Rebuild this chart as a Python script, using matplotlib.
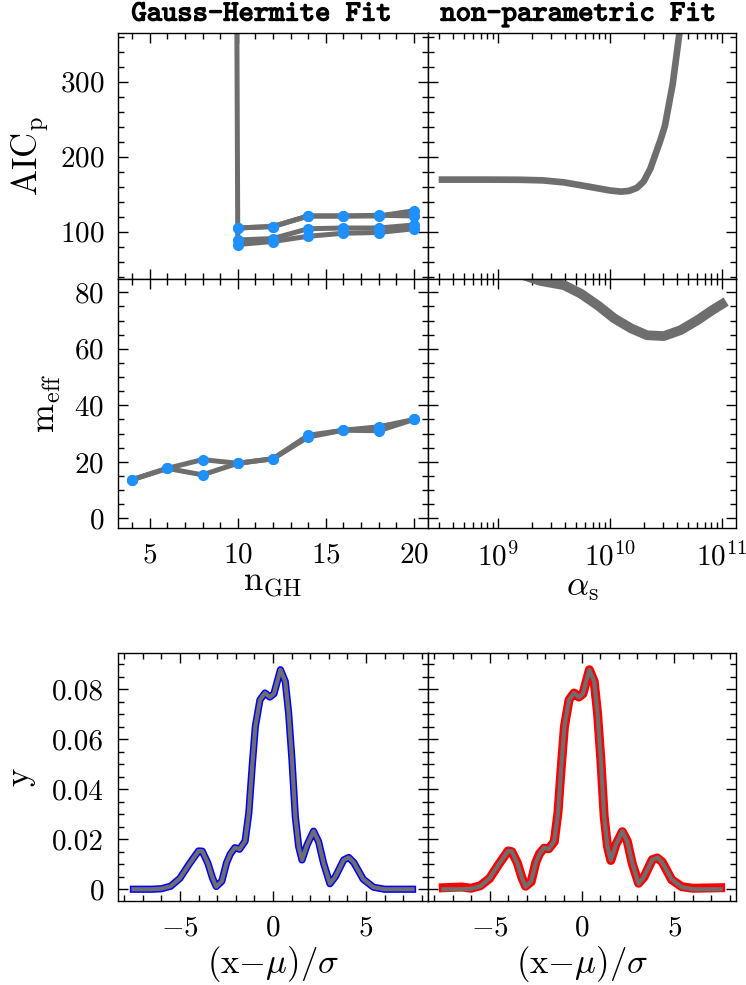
import numpy as np
import matplotlib
matplotlib.use("Agg")
import matplotlib.pyplot as plt
import matplotlib.patheffects as pe
from matplotlib.ticker import MultipleLocator, LogLocator, NullFormatter

plt.rcParams['font.family'] = 'serif'
plt.rcParams['font.serif'] = ['cmr10']
plt.rcParams['mathtext.fontset'] = 'cm'
plt.rcParams['axes.formatter.use_mathtext'] = True
plt.rcParams['axes.linewidth'] = 1.0

# --- Gauss-Hermite fits: AIC and effective number of parameters vs n_GH
n_gh = [4, 6, 8, 10, 12, 14, 16, 18, 20]
nan = np.nan
aic_gh_1 = [nan, nan, 11000, 89, 91, 104, 105, 105, 109]
aic_gh_2 = [nan, nan, nan, 105, 107, 121, 121, 121, 128]
aic_gh_3 = [nan, nan, nan, 105, 107, 121, 121, 122, 121]
aic_gh_4 = [nan, nan, nan, 83, 87, 94, 98, 99, 104]
meff_gh_1 = [13.7, 17.7, 20.8, 19.5, 21.1, 29.4, 31.2, 32.4, 35.0]
meff_gh_2 = [13.7, 17.7, 15.4, 19.5, 21.1, 28.8, 31.2, 31.0, 35.0]

# --- non-parametric fit vs smoothing parameter alpha_s (log10)
log_alpha_aic = [8.5, 8.9, 9.2, 9.4, 9.59, 9.83, 10.0, 10.1, 10.17, 10.24, 10.3, 10.36,
                 10.45, 10.49, 10.56, 10.62, 10.68]
aic_np = [169.5, 169.5, 169.3, 168.5, 165.8, 159.6, 155, 153.5, 154.5, 158.5, 167, 184,
          222, 241, 297, 365, 440]
log_alpha_meff = [8.5, 9.0, 9.38, 9.59, 9.74, 9.89, 10.04, 10.19, 10.33, 10.48,
                  10.63, 10.78, 10.91, 11.0]
meff_np = [95, 89, 84.0, 82.5, 79.5, 75.4, 70.7, 67.2, 64.8, 64.5,
           66.6, 70.1, 73.6, 75.8]

# --- recovered line-of-sight profiles
prof_x = [-7.5, -6.5, -6.0, -5.5, -5.0, -4.5, -4.0, -3.8, -3.5, -3.25, -3.05, -2.75,
          -2.5, -2.3, -2.05, -1.8, -1.5, -1.3, -1.12, -0.95, -0.7, -0.43, -0.17, 0.05,
          0.4, 0.66, 0.84, 1.02, 1.2, 1.38, 1.56, 1.83, 2.18, 2.45, 2.72, 3.06,
          3.35, 3.8, 4.07, 4.34, 4.85, 5.4, 6.0, 7.5]
prof_true = [0.0, 0.0, 0.0002, 0.0012, 0.0044, 0.0100, 0.0153, 0.0152, 0.0104, 0.0045,
             0.0010, 0.0032, 0.0105, 0.0140, 0.0166, 0.0160, 0.0192, 0.0304, 0.049, 0.065,
             0.0757, 0.0784, 0.0768, 0.0781, 0.0877, 0.0830, 0.0704, 0.0517, 0.029, 0.017,
             0.0117, 0.0177, 0.0232, 0.019, 0.0104, 0.0022, 0.0050, 0.0117, 0.0127, 0.0107,
             0.0040, 0.0008, 0.0, 0.0]
prof_gh = [0.0, 0.0, 0.0002, 0.0012, 0.0044, 0.0101, 0.0153, 0.0152, 0.0104, 0.0045,
           0.0011, 0.0032, 0.0105, 0.0140, 0.0166, 0.0160, 0.0192, 0.0304, 0.049, 0.065,
           0.0757, 0.0784, 0.0768, 0.0781, 0.0877, 0.0830, 0.0704, 0.0517, 0.029, 0.017,
           0.0117, 0.0177, 0.0232, 0.019, 0.0104, 0.0022, 0.0050, 0.0117, 0.0127, 0.0107,
           0.0040, 0.0008, 0.0, 0.0]
prof_np = [0.0006, 0.0009, 0.0004, 0.0014, 0.0043, 0.0100, 0.0153, 0.0150, 0.0106, 0.0046,
           0.0012, 0.0030, 0.0107, 0.0142, 0.0164, 0.0162, 0.0190, 0.0306, 0.049, 0.065,
           0.0757, 0.0784, 0.0768, 0.0781, 0.0877, 0.0830, 0.0704, 0.0517, 0.029, 0.017,
           0.0115, 0.0178, 0.0230, 0.0192, 0.0102, 0.0024, 0.0048, 0.0118, 0.0125, 0.0109,
           0.0038, 0.0010, 0.0004, 0.0006]

GREY = '#6e6e6e'
BLUE_PT = '#1e90ff'
TICK_FS = 21
LABEL_FS = 25

fig = plt.figure(figsize=(7.46, 9.85), dpi=100)
W, H = 746.0, 985.0

def axbox(x0, y0, x1, y1):
    return [x0 / W, 1 - y1 / H, (x1 - x0) / W, (y1 - y0) / H]

ax1 = fig.add_axes(axbox(118, 33, 428, 279))
ax2 = fig.add_axes(axbox(428, 33, 736, 279))
ax3 = fig.add_axes(axbox(118, 279, 428, 528))
ax4 = fig.add_axes(axbox(428, 279, 736, 528))
ax5 = fig.add_axes(axbox(118, 653, 428, 901))
ax6 = fig.add_axes(axbox(428, 653, 736, 901))

def style(ax):
    ax.tick_params(which='both', direction='in', top=True, right=True,
                   labelsize=TICK_FS, width=1.0)
    ax.tick_params(which='major', length=7.5)
    ax.tick_params(which='minor', length=4)
    ax.tick_params(axis='x', pad=10)
    ax.tick_params(axis='y', pad=10)

for ax in [ax1, ax2, ax3, ax4, ax5, ax6]:
    style(ax)

# left column: Gauss-Hermite
for ys in [aic_gh_1, aic_gh_2, aic_gh_3, aic_gh_4]:
    ax1.plot(n_gh, ys, color=GREY, lw=3.6, solid_capstyle='butt', zorder=2)
for ys in [aic_gh_1, aic_gh_2, aic_gh_3, aic_gh_4]:
    ax1.plot(n_gh, ys, 'o', color=BLUE_PT, ms=7, zorder=3)
for ys in [meff_gh_1, meff_gh_2]:
    ax3.plot(n_gh, ys, color=GREY, lw=3.6, zorder=2)
for ys in [meff_gh_1, meff_gh_2]:
    ax3.plot(n_gh, ys, 'o', color=BLUE_PT, ms=7, zorder=3)

for ax in [ax1, ax3]:
    ax.set_xlim(3.2, 20.8)
    ax.xaxis.set_major_locator(MultipleLocator(5))
    ax.xaxis.set_minor_locator(MultipleLocator(1))
ax1.set_ylim(37, 365)
ax1.yaxis.set_major_locator(MultipleLocator(100))
ax1.yaxis.set_minor_locator(MultipleLocator(20))
ax3.set_ylim(-3.4, 84.7)
ax3.yaxis.set_major_locator(MultipleLocator(20))
ax3.yaxis.set_minor_locator(MultipleLocator(5))
ax1.tick_params(labelbottom=False)

# right column: non-parametric
ax2.plot(10 ** np.array(log_alpha_aic), aic_np, color=GREY, lw=4.8)
ax4.plot(10 ** np.array(log_alpha_meff), meff_np, color=GREY, lw=7)
for ax in [ax2, ax4]:
    ax.set_xscale('log')
    ax.set_xlim(10 ** 8.375, 10 ** 11.125)
    ax.xaxis.set_major_locator(LogLocator(base=10, numticks=10))
    ax.xaxis.set_minor_locator(LogLocator(base=10, subs=np.arange(2, 10), numticks=20))
    ax.xaxis.set_minor_formatter(NullFormatter())
    ax.tick_params(labelleft=False)
ax2.set_ylim(ax1.get_ylim())
ax2.yaxis.set_major_locator(MultipleLocator(100))
ax2.yaxis.set_minor_locator(MultipleLocator(20))
ax4.set_ylim(ax3.get_ylim())
ax4.yaxis.set_major_locator(MultipleLocator(20))
ax4.yaxis.set_minor_locator(MultipleLocator(5))
ax2.tick_params(labelbottom=False)

# profiles
ax5.plot(prof_x, prof_gh, color='blue', lw=5.2, zorder=2)
ax5.plot(prof_x, prof_true, color=GREY, lw=3.0, zorder=3)
ax6.plot(prof_x, prof_np, color='red', lw=6.5, zorder=2)
ax6.plot(prof_x, prof_true, color=GREY, lw=3.0, zorder=3)
for ax in [ax5, ax6]:
    ax.set_xlim(-8.33, 8.33)
    ax.set_ylim(-0.0047, 0.0944)
    ax.xaxis.set_major_locator(MultipleLocator(5))
    ax.xaxis.set_minor_locator(MultipleLocator(1))
    ax.yaxis.set_major_locator(MultipleLocator(0.02))
    ax.yaxis.set_minor_locator(MultipleLocator(0.005))
    ax.set_xlabel(r'$(\mathrm{x}{-}\mu)/\sigma$', fontsize=LABEL_FS, labelpad=2)
ax5.yaxis.set_major_formatter(plt.FuncFormatter(lambda v, p: '0' if abs(v) < 1e-9 else f'{v:.2f}'))
ax6.tick_params(labelleft=False)

ax1.set_ylabel(r'$\mathrm{AIC_p}$', fontsize=LABEL_FS, labelpad=6)
ax3.set_ylabel(r'$\mathrm{m_{eff}}$', fontsize=LABEL_FS, labelpad=8)
ax3.set_xlabel(r'$\mathrm{n_{GH}}$', fontsize=LABEL_FS, labelpad=0)
ax4.set_xlabel(r'$\alpha_\mathrm{s}$', fontsize=LABEL_FS, labelpad=0)
ax5.set_ylabel(r'$\mathrm{y}$', fontsize=LABEL_FS, labelpad=10)

bold = [pe.withStroke(linewidth=1.0, foreground='black')]
ax1.set_title('Gauss-Hermite Fit', family='cmtt10', fontsize=21, pad=9,
              path_effects=bold, x=0.462)
ax2.set_title('non-parametric Fit', family='cmtt10', fontsize=21, pad=9,
              path_effects=bold, x=0.487)

fig.savefig('out.png', dpi=100)
